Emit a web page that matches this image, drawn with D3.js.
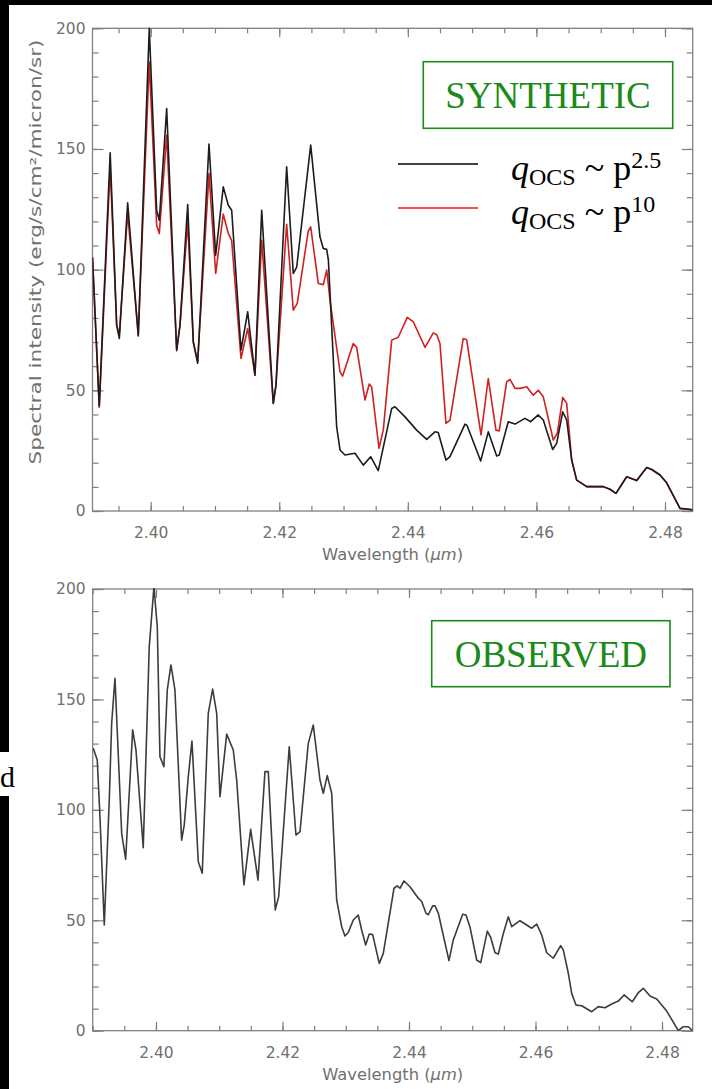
<!DOCTYPE html>
<html><head><meta charset="utf-8">
<script src="https://cdn.jsdelivr.net/npm/d3@7"></script>
<style>body{margin:0;background:#000;}svg{display:block}</style>
</head><body><svg id="c" width="712" height="1089"></svg>
<script>
// ---- data (wavelength in micron, intensity in erg/s/cm2/micron/sr) ----
const synthWl25 = [2.39095,2.3920,2.3937,2.39471,2.39512,2.39642,2.39807,2.39978,2.40093,2.40134,2.40249,2.40404,2.40456,2.40576,2.40663,2.40731,2.40907,2.41011,2.41129,2.41207,2.4126,2.41405,2.41509,2.41622,2.41727,2.41907,2.41949,2.42115,2.42218,2.42271,2.42489,2.42633,2.42685,2.42738,2.42764,2.42893,2.42945,2.43022,2.43178,2.43307,2.43422,2.4354,2.43749,2.438,2.43956,2.44137,2.44293,2.44422,2.44473,2.44593,2.44656,2.44889,2.4492,2.45133,2.45251,2.45382,2.45422,2.45562,2.45667,2.45822,2.45911,2.46029,2.46107,2.46253,2.46315,2.46409,2.46471,2.46549,2.46626,2.46782,2.4704,2.47144,2.47238,2.47404,2.4756,2.47715,2.47793,2.47922,2.48026,2.48233,2.48431];
const synthI25 = [105,43.5,148.4,77,71.5,127.7,72.5,200,124.6,120.5,166.7,66.4,77,127,70,61.2,152,106,134.3,126.7,124.6,66.7,82.5,56.3,124.6,44.6,52.2,142.6,98.4,101,151.6,113.6,108.8,108.4,104,34.9,25.3,23.2,23.9,19,22.5,16.7,42.5,43.2,39,33.5,29.7,32.8,32.5,21.1,22.5,36,35.5,20.7,32.8,22.8,23.2,37,36,38.4,37,39.8,37.7,25.5,28,41.1,37.7,21.1,12.8,10.1,10.1,9,7.3,14.2,12.6,18,17.2,14.9,11.7,1.1,0.5];
const synthWl10 = [2.39095,2.3920,2.3937,2.39471,2.39512,2.39642,2.39807,2.39978,2.40093,2.40134,2.40249,2.40404,2.40456,2.40576,2.40663,2.40731,2.40907,2.41011,2.41129,2.41207,2.4126,2.41405,2.41509,2.41622,2.41727,2.41907,2.41949,2.42115,2.42218,2.4228,2.42451,2.42489,2.42607,2.42685,2.42738,2.42789,2.42945,2.42986,2.43151,2.43204,2.43333,2.434,2.43438,2.43551,2.43618,2.43749,2.43851,2.43991,2.44085,2.44267,2.44396,2.44449,2.445,2.44593,2.44656,2.44862,2.44915,2.45138,2.45251,2.45371,2.45422,2.45537,2.45589,2.45667,2.45744,2.45849,2.45951,2.46029,2.46107,2.46262,2.46325,2.46409,2.46471,2.46549,2.46626,2.46782,2.4704,2.47144,2.47238,2.47404,2.4756,2.47715,2.47793,2.47922,2.48026,2.48233,2.48431];
const synthI10 = [105,43,142.6,77,73,123.5,73,186,118.4,115,155.7,67,77,119.8,70,62,139.8,98.4,123,115,112,63.2,75.6,56.3,112.2,44.6,52.2,118.8,83.2,86,116,117.7,94.3,93.8,99.8,87.4,57.7,55.9,69.4,67.8,46,52.6,51.3,26,33.5,70.8,72,80.2,78.4,67.8,73.8,73,69.4,36.3,37.7,71.5,71,31.5,54.9,33.5,33.2,53.5,54.5,50.8,50.8,51.5,48,50,47.3,29.4,32.2,47,44.6,21.1,12.8,10.1,10.1,9,7.3,14.2,12.6,18,17.2,14.9,11.7,1.1,0.5];
const obsWl = [2.39009,2.39072,2.39115,2.39183,2.39262,2.393,2.39352,2.39458,2.39521,2.39632,2.39684,2.39799,2.39894,2.39968,2.40021,2.40063,2.40126,2.40179,2.40237,2.403,2.40406,2.40447,2.40511,2.40569,2.40669,2.40732,2.40827,2.40896,2.4096,2.41012,2.41118,2.41222,2.41276,2.41391,2.41497,2.41613,2.41723,2.41776,2.41886,2.4194,2.42107,2.42213,2.42277,2.42408,2.42487,2.42593,2.42645,2.42708,2.42778,2.42857,2.42936,2.42988,2.4304,2.4312,2.43198,2.43252,2.43315,2.43372,2.43426,2.4353,2.43594,2.43763,2.43815,2.43858,2.43921,2.44016,2.44147,2.44201,2.44269,2.44305,2.44375,2.44411,2.44464,2.44632,2.447,2.44849,2.44901,2.44964,2.4507,2.45134,2.45238,2.45292,2.4536,2.45412,2.45491,2.4557,2.45624,2.45755,2.4594,2.46019,2.46098,2.46177,2.46281,2.46398,2.4644,2.46519,2.46572,2.4664,2.4673,2.46889,2.46993,2.47099,2.47205,2.47309,2.474,2.47531,2.47625,2.47704,2.4781,2.47916,2.48074,2.48258,2.48337,2.48416,2.48485];
const obsI = [127.9,122.6,96.9,47.9,104.5,139.2,159.6,89.4,77.6,136.2,127.1,82.9,173.9,201,182.9,124.1,119.5,154.3,165.6,154.3,86.3,93.1,115,131.2,76.5,71.3,143.7,154.7,143.7,106,134.3,127.1,113.5,66,91.2,68.2,117.3,117.3,54.7,60.7,128.6,88.6,90.1,130.1,138.4,113.5,107.5,115.5,107.5,59.2,47.1,42.9,44.5,50.1,52.4,45.6,38.8,43.8,43.5,30.5,35,64.5,65.6,64.5,67.8,65.2,60,58.5,53.2,52.5,56.5,56.5,53.2,31.7,41.1,52.7,52.4,47,32,30.8,45.1,42.2,35.3,34.7,44,51.6,47.1,49.8,46.4,48.3,43.3,35.3,32.8,38.5,36.5,26,16.9,11.6,11.3,8.6,10.9,10.4,12.1,13.4,16.2,13.1,17.2,19.2,15.7,14.4,8.9,0,1.8,1.8,0];
const xTickLabels = [2.40,2.42,2.44,2.46,2.48];
const yTickLabels = [0,50,100,150,200];
const xTitle = "Wavelength (";
const yTitle = "Spectral intensity (erg/s/cm²/micron/sr)";
const legendLabels = [{base:"2.5"},{base:"10"}];
const seriesColors = ["#1c1c1c","#d02020"];

const svg = d3.select("#c");
// slide background
svg.append("rect").attr("x",0).attr("y",0).attr("width",712).attr("height",1089).attr("fill","#000");
svg.append("rect").attr("x",9).attr("y",5).attr("width",703).attr("height",1084).attr("fill","#fff");
svg.append("rect").attr("x",0).attr("y",752).attr("width",14).attr("height",44).attr("fill","#fff");
svg.append("text").attr("x",0).attr("y",787).attr("font-family","Liberation Serif").attr("font-size",30).attr("fill","#000").text("d");

const axisColor = "#808080", labColor = "#707070";
const tickFont = "DejaVu Sans";

function panel(cfg){
  const {left,right,ptop,pbot,xdom,id} = cfg;
  const x = d3.scaleLinear().domain(xdom).range([left,right]);
  const y = d3.scaleLinear().domain([0,200]).range([pbot,ptop]);
  const g = svg.append("g");
  const minorX = d3.range(2.390,2.4851,0.005).map(v=>+v.toFixed(3)).filter(v=>v>=xdom[0]&&v<=xdom[1]);
  const minorY = d3.range(0,201,10);
  const styleAxis = sel => { sel.select(".domain").remove(); sel.selectAll("line").attr("stroke",axisColor).attr("stroke-width",1.2); sel.selectAll("text").attr("fill",labColor).attr("font-family",tickFont).attr("font-size",15.5); };
  g.append("g").attr("transform",`translate(0,${pbot})`).call(d3.axisBottom(x).tickValues(minorX).tickSize(-5).tickFormat("")).call(styleAxis);
  g.append("g").attr("transform",`translate(0,${pbot})`).call(d3.axisBottom(x).tickValues(xTickLabels).tickSize(-9).tickPadding(16).tickFormat(d3.format(".2f"))).call(styleAxis);
  g.append("g").attr("transform",`translate(0,${ptop})`).call(d3.axisTop(x).tickValues(minorX).tickSize(-5).tickFormat("")).call(styleAxis);
  g.append("g").attr("transform",`translate(0,${ptop})`).call(d3.axisTop(x).tickValues(xTickLabels).tickSize(-9).tickFormat("")).call(styleAxis);
  g.append("g").attr("transform",`translate(${left},0)`).call(d3.axisLeft(y).tickValues(minorY).tickSize(-6).tickFormat("")).call(styleAxis);
  g.append("g").attr("transform",`translate(${left},0)`).call(d3.axisLeft(y).tickValues(yTickLabels).tickSize(-11).tickPadding(7).tickFormat(d3.format("d"))).call(styleAxis);
  g.append("g").attr("transform",`translate(${right},0)`).call(d3.axisRight(y).tickValues(minorY).tickSize(-6).tickFormat("")).call(styleAxis);
  g.append("g").attr("transform",`translate(${right},0)`).call(d3.axisRight(y).tickValues(yTickLabels).tickSize(-11).tickFormat("")).call(styleAxis);
  g.append("rect").attr("x",left).attr("y",ptop).attr("width",right-left).attr("height",pbot-ptop).attr("fill","none").attr("stroke",axisColor).attr("stroke-width",1.3);
  svg.append("clipPath").attr("id","clip"+id).append("rect").attr("x",left).attr("y",ptop-1).attr("width",right-left).attr("height",pbot-ptop+1);
  const t = g.append("text").attr("x",(left+right)/2).attr("y",pbot+49).attr("text-anchor","middle").attr("fill",labColor).attr("font-family",tickFont).attr("font-size",15)
    .attr("textLength",141).attr("lengthAdjust","spacingAndGlyphs");
  t.append("tspan").text(xTitle);
  t.append("tspan").attr("font-style","italic").text("\u03bcm");
  t.append("tspan").text(")");
  return {x,y,g};
}

const topPanel = panel({left:92.5,right:692.7,ptop:28.3,pbot:511,xdom:[2.39095,2.48431],id:"a"});
const botPanel = panel({left:92.7,right:692.7,ptop:589,pbot:1030.7,xdom:[2.390,2.48485],id:"b"});

svg.append("text").attr("transform","translate(41,252) rotate(-90)").attr("text-anchor","middle")
  .attr("fill",labColor).attr("font-family",tickFont).attr("font-size",15)
  .attr("textLength",425).attr("lengthAdjust","spacingAndGlyphs").text(yTitle);

function drawLine(p,wl,vals,color,clip){
  const pts = wl.map((w,i)=>[w,vals[i]]);
  const line = d3.line().x(d=>p.x(d[0])).y(d=>p.y(d[1]));
  svg.append("path").datum(pts).attr("d",line).attr("fill","none").attr("stroke",color).attr("stroke-width",1.6).attr("stroke-linejoin","round").attr("clip-path",`url(#clip${clip})`);
}
drawLine(topPanel,synthWl10,synthI10,seriesColors[1],"a");
drawLine(topPanel,synthWl25,synthI25,seriesColors[0],"a");
drawLine(botPanel,obsWl,obsI,"#3c3c3c","b");

const green = "#1a8a1a";
function labelBox(x0,y0,w,h,txt,ty){
  svg.append("rect").attr("x",x0).attr("y",y0).attr("width",w).attr("height",h).attr("fill","#fff").attr("stroke",green).attr("stroke-width",1.6);
  svg.append("text").attr("x",x0+w/2).attr("y",ty).attr("text-anchor","middle").attr("fill",green).attr("font-family","Liberation Serif").attr("font-size",37).text(txt);
}
labelBox(423.3,61.7,249.4,66.6,"SYNTHETIC",108);
labelBox(431.7,620.7,238.3,66,"OBSERVED",667);

const legY = [164,208], legBase = [180,224];
legendLabels.forEach((d,i)=>{
  svg.append("line").attr("x1",398).attr("x2",478).attr("y1",legY[i]).attr("y2",legY[i]).attr("stroke",i? "#ff1010":"#000").attr("stroke-width",1.5);
  const t = svg.append("text").attr("x",511).attr("y",legBase[i]).attr("font-family","Liberation Serif").attr("font-size",36).attr("fill","#000");
  t.append("tspan").attr("font-style","italic").text("q");
  t.append("tspan").attr("font-size",24).attr("dy",5).text("OCS");
  t.append("tspan").attr("dy",-5).text(" ~ p");
  t.append("tspan").attr("font-size",24).attr("dy",-12).text(d.base);
});
</script></body></html>
